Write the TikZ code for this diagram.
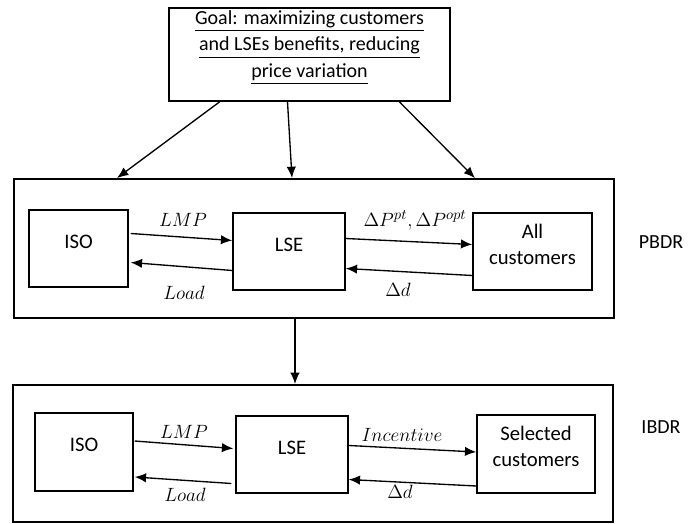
\documentclass[tikz,border=0pt]{standalone}
\usepackage{amsmath}
\usepackage{fontspec}
\setmainfont{Carlito}
\usetikzlibrary{arrows.meta,fit}

\tikzset{
  outerbox/.style={draw, line width=1.4pt, inner sep=0pt},
  innerbox/.style={draw, line width=1.1pt, inner sep=0pt, align=center,
    font=\fontsize{15.5}{19.5}\selectfont},
  flow/.style={-{Latex[length=8.5pt,width=7pt]}, line width=1pt},
  mathlbl/.style={font=\fontsize{15}{17}\selectfont},
  sidelbl/.style={font=\fontsize{15}{17}\selectfont}
}

\begin{document}
\begin{tikzpicture}[x=0.75pt, y=-0.75pt]
\useasboundingbox (0,0) rectangle (699,524);

% goal
\node[innerbox, line width=1.4pt, font=\fontsize{15}{20}\selectfont,
  fit={(169,8) (450,101)}] (goal)
  {\underline{Goal: maximizing customers}\\
   \underline{and LSEs benefits, reducing}\\
   \underline{price variation}};

% PBDR block
\node[outerbox, fit={(14,179) (614,318)}] (pbdr) {};
\node[innerbox, fit={(29,210) (128,287)}] (iso1) {ISO};
\node[innerbox, fit={(233,213) (345,290)}] (lse1) {LSE};
\node[innerbox, fit={(473,213) (592,290)}] (cust1) {All\\customers};
\node[sidelbl] (pbdrlbl) at (661,242) {PBDR};

% IBDR block
\node[outerbox, fit={(13,385) (613,522)}] (ibdr) {};
\node[innerbox, fit={(35,413) (133,491)}] (iso2) {ISO};
\node[innerbox, fit={(236,416) (348,493)}] (lse2) {LSE};
\node[innerbox, fit={(477,415) (595,493)}] (cust2) {Selected\\customers};
\node[sidelbl] (ibdrlbl) at (661,427) {IBDR};

% goal to PBDR
\draw[flow] ([shift={(-90,0)}]goal.south) -- ([shift={(-197,0)}]pbdr.north);
\draw[flow] ([shift={(-22,0)}]goal.south) -- ([shift={(-22,0)}]pbdr.north);
\draw[flow] ([shift={(90,0)}]goal.south) -- ([shift={(161,0)}]pbdr.north);

% PBDR to IBDR
\draw[flow] ([shift={(-19,0)}]pbdr.south) -- ([shift={(-18,0)}]ibdr.north);

% PBDR flows
\draw[flow] ([shift={(2,-15)}]iso1.east) -- ([shift={(0,-11)}]lse1.west);
\draw[flow] ([shift={(0,19)}]lse1.west) -- ([shift={(2,14)}]iso1.east);
\draw[flow] ([shift={(0,-13)}]lse1.east) -- ([shift={(0,-7)}]cust1.west);
\draw[flow] ([shift={(0,24)}]cust1.west) -- ([shift={(0,17)}]lse1.east);
\node[mathlbl] (lmp1) at (183,220) {$LMP$};
\node[mathlbl] (load1) at (184,293) {$Load$};
\node[mathlbl] (dp1) at (415,220) {$\Delta P^{pt},\Delta P^{opt}$};
\node[mathlbl] (dd1) at (398,290) {$\Delta d$};

% IBDR flows
\draw[flow] ([shift={(1,-11)}]iso2.east) -- ([shift={(-2,-6)}]lse2.west);
\draw[flow] ([shift={(-4,29)}]lse2.west) -- ([shift={(1,25)}]iso2.east);
\draw[flow] ([shift={(0,-9)}]lse2.east) -- ([shift={(0,-2)}]cust2.west);
\draw[flow] ([shift={(0,32)}]cust2.west) -- ([shift={(0,25)}]lse2.east);
\node[mathlbl] (lmp2) at (184,432) {$LMP$};
\node[mathlbl] (load2) at (185,495) {$Load$};
\node[mathlbl] (inc2) at (402,435) {$Incentive$};
\node[mathlbl] (dd2) at (400,492) {$\Delta d$};
\end{tikzpicture}
\end{document}
